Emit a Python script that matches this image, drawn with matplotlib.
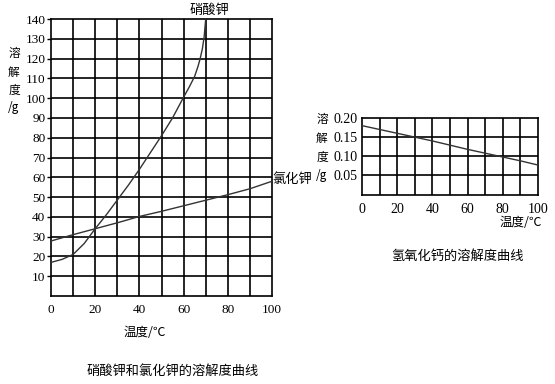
import matplotlib
matplotlib.use("Agg")
import matplotlib.pyplot as plt

plt.rcParams["font.family"] = ["Liberation Serif", "Noto Sans CJK SC"]

# ---- data: KNO3 and KCl (left chart) ----
kno3_temp = [0, 5, 10, 15, 20, 25, 30, 35, 40, 45, 50, 55, 60, 62.5, 65, 66.5, 67.5, 68.5, 69.3, 70]
kno3_sol = [17, 18.5, 21, 26.5, 34, 41, 48.5, 56, 64, 72.5, 81, 90, 100.5, 105.5, 111, 116, 120, 125, 131, 140]
kcl_temp = [0, 10, 20, 30, 40, 50, 60, 70, 80, 90, 100]
kcl_sol = [27.8, 31.0, 34.0, 37.0, 40.2, 42.8, 45.6, 48.4, 51.2, 54.2, 58.0]

left_xticks = [0, 20, 40, 60, 80, 100]
left_yticks = [10, 20, 30, 40, 50, 60, 70, 80, 90, 100, 110, 120, 130, 140]

# ---- data: Ca(OH)2 (right chart) ----
caoh2_temp = [0, 10, 20, 30, 40, 50, 60, 70, 80, 90, 100]
caoh2_sol = [0.180, 0.170, 0.160, 0.150, 0.140, 0.129, 0.118, 0.108, 0.098, 0.088, 0.077]
right_xticks = [0, 20, 40, 60, 80, 100]
right_yticks = [0.05, 0.10, 0.15, 0.20]
right_yticklabels = ["0.05", "0.10", "0.15", "0.20"]

W, H = 555, 384
fig = plt.figure(figsize=(W / 100, H / 100), dpi=100)
fig.patch.set_facecolor("white")

CJK = ["Noto Sans CJK SC", "DejaVu Sans"]
NUM = ["Liberation Serif"]


def px_axes(x0, y0, x1, y1):
    return fig.add_axes([x0 / W, 1 - y1 / H, (x1 - x0) / W, (y1 - y0) / H])


def ftext(x, y, s, **kw):
    fig.text(x / W, 1 - y / H, s, **kw)


# ---------- left chart ----------
ax1 = px_axes(51, 19, 272, 296)
ax1.set_xlim(0, 100)
ax1.set_ylim(0, 140)
for v in range(10, 100, 10):
    ax1.axvline(v, color="black", lw=1.2, zorder=1)
for v in range(10, 140, 10):
    ax1.axhline(v, color="black", lw=1.2, zorder=1)
ax1.plot(kno3_temp, kno3_sol, color="#333333", lw=1.0, zorder=3)
ax1.plot(kcl_temp, kcl_sol, color="#333333", lw=1.0, zorder=3)
for s in ax1.spines.values():
    s.set_linewidth(1.2)
ax1.set_xticks(left_xticks)
ax1.set_xticklabels([str(t) for t in left_xticks], family=NUM, fontsize=9.5)
ax1.set_yticks(left_yticks)
ax1.set_yticklabels([str(t) for t in left_yticks], family=NUM, fontsize=9.5)
ax1.tick_params(axis="x", length=0, pad=6)
ax1.tick_params(axis="y", length=3, width=1, pad=1)

ftext(209, 10, "硝酸钾", family=CJK, fontsize=9.5, ha="center", va="center")
ftext(272, 180, "氯化钾", family=CJK, fontsize=9.5, ha="left", va="center")
for ch, yy in zip(["溶", "解", "度", "/g"], [53, 72, 90, 107]):
    ftext(14, yy, ch, family=CJK, fontsize=8.5, ha="center", va="center")
ftext(145, 332, "温度/℃", family=CJK, fontsize=9, ha="center", va="center")
ftext(173, 371, "硝酸钾和氯化钾的溶解度曲线", family=CJK, fontsize=9.5, ha="center", va="center")

# ---------- right chart ----------
ax2 = px_axes(362, 118, 538, 194.5)
ax2.set_xlim(0, 100)
ax2.set_ylim(0, 0.20)
for v in range(10, 100, 10):
    ax2.axvline(v, color="black", lw=1.2, zorder=1)
for v in [0.05, 0.10, 0.15]:
    ax2.axhline(v, color="black", lw=1.2, zorder=1)
ax2.plot(caoh2_temp, caoh2_sol, color="#333333", lw=1.0, zorder=3)
for s in ax2.spines.values():
    s.set_linewidth(1.2)
ax2.set_xticks(right_xticks)
ax2.set_xticklabels([str(t) for t in right_xticks], family=NUM, fontsize=10)
ax2.set_yticks(right_yticks)
ax2.set_yticklabels(right_yticklabels, family=NUM, fontsize=10)
ax2.tick_params(axis="x", length=0, pad=6)
ax2.tick_params(axis="y", length=0, pad=3)

for ch, yy in zip(["溶", "解", "度", "/g"], [120, 138, 157, 176]):
    ftext(322, yy, ch, family=CJK, fontsize=8.5, ha="center", va="center")
ftext(542, 223, "温度/℃", family=CJK, fontsize=9, ha="right", va="center")
ftext(457, 256, "氢氧化钙的溶解度曲线", family=CJK, fontsize=9.5, ha="center", va="center")

fig.savefig("out.png", dpi=100, facecolor="white")
